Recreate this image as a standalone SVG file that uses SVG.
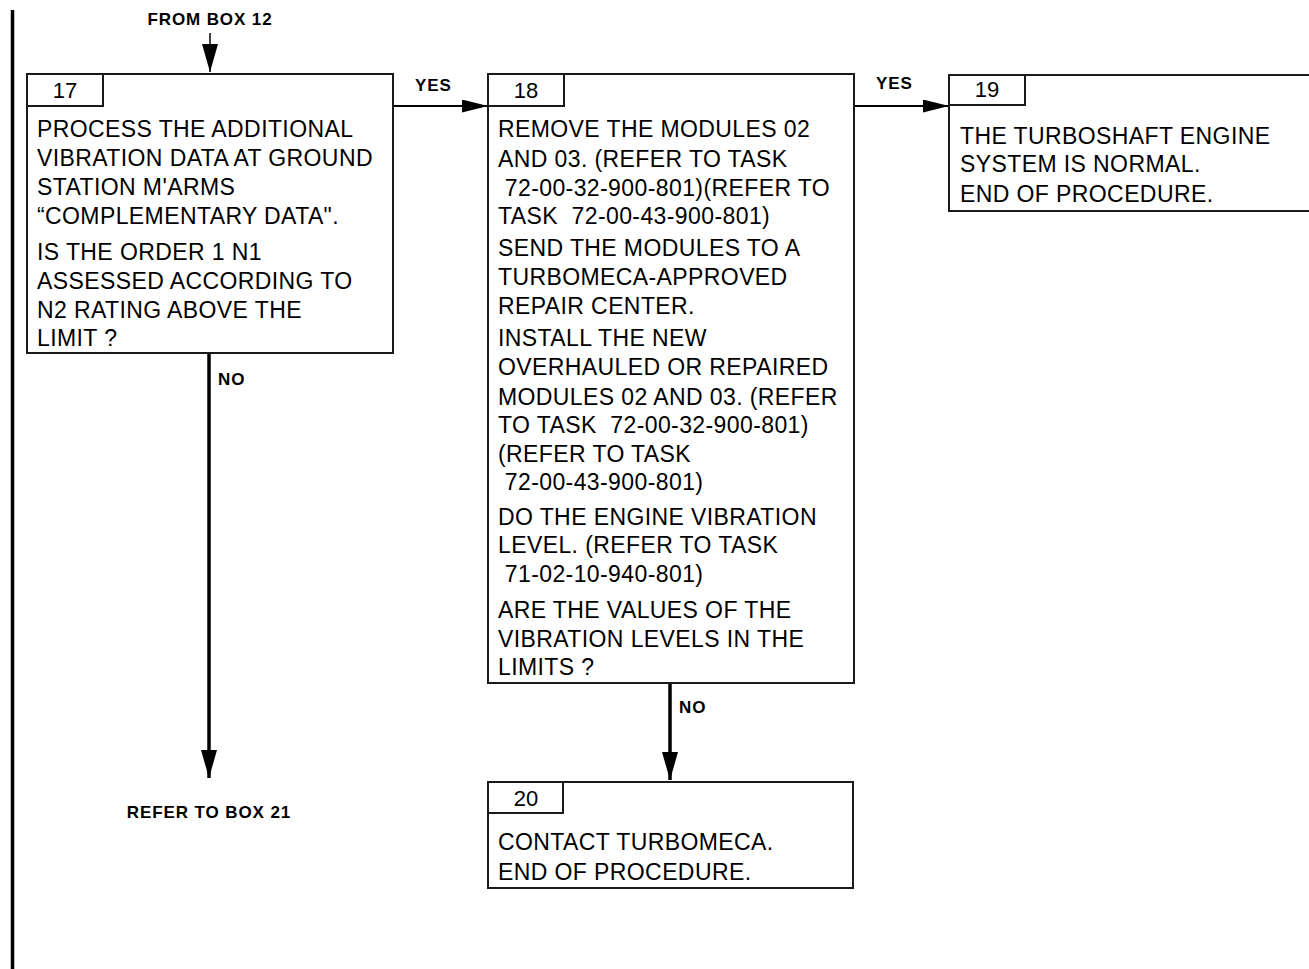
<svg xmlns="http://www.w3.org/2000/svg" width="1309" height="969" viewBox="0 0 1309 969">
<style>
.box{fill:#fff;stroke:#1a1a1a;stroke-width:2}
.t{font-family:"Liberation Sans",Arial,sans-serif;font-size:23px;letter-spacing:0.4px;fill:#000;white-space:pre}
.n{font-family:"Liberation Sans",Arial,sans-serif;font-size:22px;fill:#000;text-anchor:middle}
.lb{font-family:"Liberation Sans",Arial,sans-serif;font-size:17px;font-weight:bold;letter-spacing:0.9px;fill:#000}
.c{fill:none;stroke:#000}
</style>
<defs>
<marker id="ah" markerUnits="userSpaceOnUse" markerWidth="30" markerHeight="20" refX="28" refY="8" orient="auto">
<path d="M0,0 L28,8 L0,16 Z" fill="#000"/>
</marker>
<marker id="ahs" markerUnits="userSpaceOnUse" markerWidth="28" markerHeight="16" refX="26" refY="6.5" orient="auto">
<path d="M0,0 L26,6.5 L0,13 Z" fill="#000"/>
</marker>
</defs>
<rect x="0" y="0" width="1309" height="969" fill="#fff"/>
<line x1="12.5" y1="10" x2="12.5" y2="969" stroke="#000" stroke-width="3.5"/>

<g id="connectors">
<text class="lb" x="210" y="25" text-anchor="middle">FROM BOX 12</text>
<path class="c" d="M210,33 L210,72" stroke-width="1.5" marker-end="url(#ah)"/>
<path class="c" d="M393,106 L488,106" stroke-width="2" marker-end="url(#ahs)"/>
<text class="lb" x="415" y="91">YES</text>
<path class="c" d="M854,106 L949,106" stroke-width="2" marker-end="url(#ahs)"/>
<text class="lb" x="876" y="89">YES</text>
<path class="c" d="M209,353 L209,778" stroke-width="3.5" marker-end="url(#ah)"/>
<text class="lb" x="218" y="385">NO</text>
<text class="lb" x="209" y="818" text-anchor="middle">REFER TO BOX 21</text>
<path class="c" d="M670,683 L670,780" stroke-width="3.5" marker-end="url(#ah)"/>
<text class="lb" x="679" y="713">NO</text>
</g>

<g id="box17">
<rect class="box" x="27" y="74" width="366" height="279"/>
<rect class="box" x="27" y="74" width="76" height="32"/>
<text class="n" x="65" y="98">17</text>
<text class="t" x="37" y="137">PROCESS THE ADDITIONAL</text>
<text class="t" x="37" y="166">VIBRATION DATA AT GROUND</text>
<text class="t" x="37" y="195">STATION M'ARMS</text>
<text class="t" x="37" y="224">“COMPLEMENTARY DATA".</text>
<text class="t" x="37" y="260">IS THE ORDER 1 N1</text>
<text class="t" x="37" y="289">ASSESSED ACCORDING TO</text>
<text class="t" x="37" y="318">N2 RATING ABOVE THE</text>
<text class="t" x="37" y="346">LIMIT ?</text>
</g>

<g id="box18">
<rect class="box" x="488" y="74" width="366" height="609"/>
<rect class="box" x="488" y="74" width="76" height="32"/>
<text class="n" x="526" y="98">18</text>
<text class="t" x="498" y="137">REMOVE THE MODULES 02</text>
<text class="t" x="498" y="167">AND 03. (REFER TO TASK</text>
<text class="t" x="498" y="196"> 72-00-32-900-801)(REFER TO</text>
<text class="t" x="498" y="224">TASK  72-00-43-900-801)</text>
<text class="t" x="498" y="256">SEND THE MODULES TO A</text>
<text class="t" x="498" y="285">TURBOMECA-APPROVED</text>
<text class="t" x="498" y="314">REPAIR CENTER.</text>
<text class="t" x="498" y="346">INSTALL THE NEW</text>
<text class="t" x="498" y="375">OVERHAULED OR REPAIRED</text>
<text class="t" x="498" y="405">MODULES 02 AND 03. (REFER</text>
<text class="t" x="498" y="433">TO TASK  72-00-32-900-801)</text>
<text class="t" x="498" y="462">(REFER TO TASK</text>
<text class="t" x="498" y="490"> 72-00-43-900-801)</text>
<text class="t" x="498" y="525">DO THE ENGINE VIBRATION</text>
<text class="t" x="498" y="553">LEVEL. (REFER TO TASK</text>
<text class="t" x="498" y="582"> 71-02-10-940-801)</text>
<text class="t" x="498" y="618">ARE THE VALUES OF THE</text>
<text class="t" x="498" y="647">VIBRATION LEVELS IN THE</text>
<text class="t" x="498" y="675">LIMITS ?</text>
</g>

<g id="box19">
<rect class="box" x="949" y="75" width="365" height="136"/>
<rect class="box" x="949" y="75" width="76" height="30"/>
<text class="n" x="987" y="97">19</text>
<text class="t" x="960" y="144">THE TURBOSHAFT ENGINE</text>
<text class="t" x="960" y="172">SYSTEM IS NORMAL.</text>
<text class="t" x="960" y="202">END OF PROCEDURE.</text>
</g>

<g id="box20">
<rect class="box" x="488" y="782" width="365" height="106"/>
<rect class="box" x="488" y="782" width="75" height="31"/>
<text class="n" x="526" y="806">20</text>
<text class="t" x="498" y="850">CONTACT TURBOMECA.</text>
<text class="t" x="498" y="880">END OF PROCEDURE.</text>
</g>
</svg>
